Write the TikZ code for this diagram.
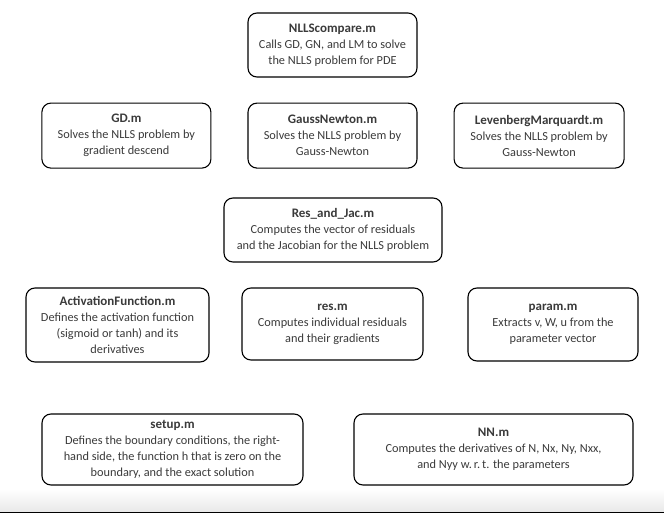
\documentclass[tikz,border=0pt]{standalone}
\usepackage{fontspec}
\setmainfont{Carlito}
\usepackage{tikz}
\usetikzlibrary{positioning,calc}

\definecolor{txtgray}{HTML}{3A3A3A}
\newcommand{\ftitle}[1]{{\bfseries\fontsize{13}{16}\selectfont #1}}

\begin{document}
\begin{tikzpicture}[x=1pt,y=-1pt,
        filebox/.style={draw,line width=1.1pt,rounded corners=9pt,align=center,
            text=txtgray,font=\fontsize{12.3}{16}\selectfont,inner sep=2pt}]
        \useasboundingbox (0,0) rectangle (664,514);
        \shade[top color=white,bottom color=black!9] (0,489) rectangle (664,512);
        \draw[line width=1.2pt] (0,512.5) -- (664,512.5);

        \node[filebox,minimum width=169pt,minimum height=64pt] (cmp) at (332.5,45)
            {\ftitle{NLLScompare.m}\\Calls GD, GN, and LM to solve\\the NLLS problem for PDE};
        \node[filebox,minimum width=169pt,minimum height=65pt] (gn) [below=25pt of cmp]
            {\ftitle{GaussNewton.m}\\Solves the NLLS problem by\\Gauss-Newton};
        \node[filebox,minimum width=169pt,minimum height=65pt] (gd) [left=36pt of gn]
            {\ftitle{GD.m}\\Solves the NLLS problem by\\gradient descend};
        \node[filebox,minimum width=170pt,minimum height=65pt] (lm) [right=36pt of gn]
            {\ftitle{LevenbergMarquardt.m}\\Solves the NLLS problem by\\Gauss-Newton};
        \node[filebox,minimum width=218pt,minimum height=64pt] (rj) at (333,230)
            {\ftitle{Res\_and\_Jac.m}\\Computes the vector of residuals\\and the Jacobian for the NLLS problem};
        \node[filebox,minimum width=183pt,minimum height=74pt] (act) at (117.5,325)
            {\ftitle{ActivationFunction.m}\\Defines the activation function\\(sigmoid or tanh) and its\\derivatives};
        \node[filebox,minimum width=181pt,minimum height=72pt] (res) at (332.5,324)
            {\ftitle{res.m}\\Computes individual residuals\\and their gradients};
        \node[filebox,minimum width=170pt,minimum height=73pt] (par) at (553,324.5)
            {\ftitle{param.m}\\Extracts v, W, u from the\\parameter vector};
        \node[filebox,minimum width=261pt,minimum height=71pt] (setup) at (172.5,449.5)
            {\ftitle{setup.m}\\Defines the boundary conditions, the right-\\hand side, the function h that is zero on the\\boundary, and the exact solution};
        \node[filebox,minimum width=279pt,minimum height=71pt] (nn) at (493.5,449.5)
            {\ftitle{NN.m}\\Computes the derivatives of N, Nx, Ny, Nxx,\\and Nyy w.\,r.\,t. the parameters};
    \end{tikzpicture}
\end{document}
